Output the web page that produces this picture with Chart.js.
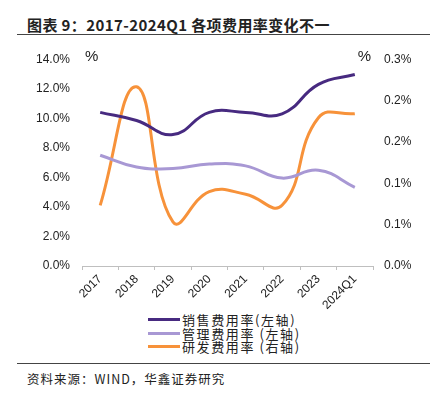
<!DOCTYPE html>
<html>
<head>
<meta charset="utf-8">
<script src="https://cdn.jsdelivr.net/npm/chart.js@4.4.1/dist/chart.umd.min.js"></script>
<style>
  body { margin: 0; background: #fff; font-family: "Noto Sans CJK SC", sans-serif; }
  #wrap { position: relative; width: 439px; height: 398px; overflow: hidden; }
  #title { position: absolute; left: 27px; top: 14px; font-size: 15px; font-weight: bold; color: #222; white-space: nowrap; letter-spacing: 0.4px; }
  .rule { position: absolute; left: 17px; width: 413px; height: 1px; background: #444; }
  #chartBox { position: absolute; left: 0; top: 40px; width: 439px; height: 270px; }
  #legend { position: absolute; left: 148px; top: 313px; font-size: 13px; line-height: 13px; color: #222; letter-spacing: 1.6px; }
  #legend div { display: flex; align-items: center; height: 13.5px; white-space: nowrap; }
  #legend span.sw { display: inline-block; width: 32px; height: 3px; margin-right: 2px; }
  #source { position: absolute; left: 27px; top: 369px; font-size: 12.5px; color: #222; white-space: nowrap; letter-spacing: 1px; }
</style>
</head>
<body>
<div id="wrap">
  <div id="title">图表 9：2017-2024Q1 各项费用率变化不一</div>
  <div class="rule" style="top:34px"></div>
  <div id="chartBox"><canvas id="chart" width="439" height="270"></canvas></div>
  <div id="legend"></div>
  <div class="rule" style="top:363px"></div>
  <div id="source">资料来源：WIND，华鑫证券研究</div>
</div>
<script>
// 数据
const years = ['2017', '2018', '2019', '2020', '2021', '2022', '2023', '2024Q1'];
const salesRate = [10.4, 9.85, 8.9, 10.4, 10.4, 10.3, 12.3, 12.96];   // 销售费用率（左轴）
const adminRate = [7.5, 6.7, 6.6, 6.9, 6.78, 5.95, 6.48, 5.33];       // 管理费用率（左轴）
const rdRate = [0.088, 0.26, 0.064, 0.108, 0.104, 0.088, 0.215, 0.221]; // 研发费用率（右轴）
const seriesNames = ['销售费用率(左轴)', '管理费用率 (左轴)', '研发费用率 (右轴)'];
const seriesColors = ['#472a80', '#a898d4', '#f7923a'];

const unitPlugin = {
  id: 'unitLabels',
  afterDraw(chart) {
    const { ctx, chartArea } = chart;
    ctx.save();
    ctx.font = '15px "Liberation Sans", sans-serif';
    ctx.fillStyle = '#222';
    ctx.textBaseline = 'middle';
    ctx.textAlign = 'left';
    ctx.fillText('%', chartArea.left + 3, chartArea.top - 2);
    ctx.textAlign = 'right';
    ctx.fillText('%', chartArea.right - 2, chartArea.top - 2);
    ctx.restore();
  }
};

const tickFont = { family: '"Liberation Sans", sans-serif', size: 12 };

const chart = new Chart(document.getElementById('chart'), {
  type: 'line',
  data: {
    labels: years,
    datasets: [
      { label: seriesNames[0], data: salesRate, yAxisID: 'y', borderColor: seriesColors[0] },
      { label: seriesNames[1], data: adminRate, yAxisID: 'y', borderColor: seriesColors[1] },
      { label: seriesNames[2], data: rdRate, yAxisID: 'y1', borderColor: seriesColors[2] }
    ]
  },
  options: {
    responsive: false,
    animation: false,
    layout: { padding: { top: 15, left: 0, right: 0, bottom: 0 } },
    elements: {
      line: { borderWidth: 3, tension: 0.45, fill: false },
      point: { radius: 0 }
    },
    plugins: {
      legend: { display: false },
      tooltip: { enabled: false }
    },
    scales: {
      x: {
        offset: true,
        grid: { display: true, offset: true, drawOnChartArea: false, drawTicks: true, tickLength: 4, color: '#bfbfbf' },
        border: { display: true, color: '#bfbfbf' },
        ticks: { font: tickFont, color: '#222', minRotation: 45, maxRotation: 45, padding: 2 },
        afterFit(scale) { scale.height = 44; }
      },
      y: {
        position: 'left',
        min: 0,
        max: 14,
        grid: { display: false, drawTicks: false },
        border: { display: false },
        ticks: {
          stepSize: 2,
          font: tickFont,
          color: '#222',
          padding: 12,
          callback: v => v.toFixed(1) + '%'
        },
        afterFit(scale) { scale.width = 82; }
      },
      y1: {
        position: 'right',
        min: 0,
        max: 0.3,
        grid: { display: false, drawTicks: false },
        border: { display: false },
        ticks: {
          stepSize: 0.06,
          font: tickFont,
          color: '#222',
          padding: 11,
          callback: v => v.toFixed(1) + '%'
        },
        afterFit(scale) { scale.width = 66; }
      }
    }
  },
  plugins: [unitPlugin]
});

// 图例
const legendEl = document.getElementById('legend');
chart.data.datasets.forEach(ds => {
  const row = document.createElement('div');
  row.innerHTML = '<span class="sw" style="background:' + ds.borderColor + '"></span>' + ds.label;
  legendEl.appendChild(row);
});
</script>
</body>
</html>
